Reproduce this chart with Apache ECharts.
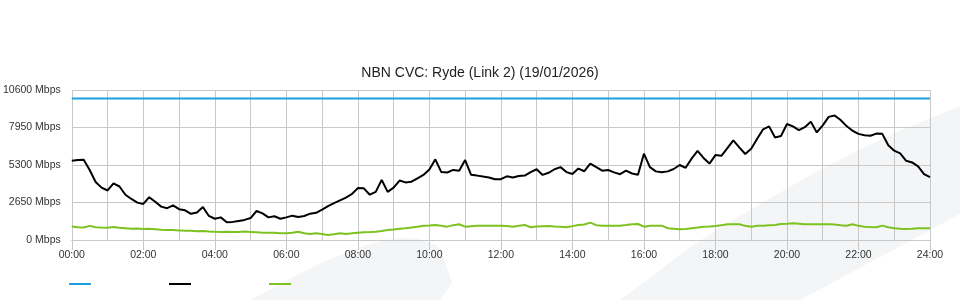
<!DOCTYPE html>
<html>
<head>
<meta charset="utf-8">
<script src="https://cdn.jsdelivr.net/npm/echarts@6/dist/echarts.min.js"></script>
<style>
html,body{margin:0;padding:0;background:#fff;}
#chart{width:960px;height:300px;}
</style>
</head>
<body>
<div id="chart"></div>
<script>
// ---- data (10-minute samples, 00:00 .. 24:00) ----
const titleText = 'NBN CVC: Ryde (Link 2) (19/01/2026)';
const sampleMinutes = 10;
const xTickLabels = ['00:00','02:00','04:00','06:00','08:00','10:00','12:00','14:00','16:00','18:00','20:00','22:00','24:00'];
const yTickValues = [0, 2650, 5300, 7950, 10600];
const seriesNames = ['CVC Capacity', 'Download', 'Upload'];

const capacityHours = [0, 24];
const capacityMbps = [10000, 10000];

const downloadMbps = [
  5600, 5650, 5672, 4950, 4100, 3700, 3500, 4000, 3780, 3200,
  2900, 2640, 2550, 3027, 2700, 2360, 2250, 2450, 2180, 2100,
  1850, 1950, 2330, 1700, 1500, 1600, 1250, 1280, 1350, 1420,
  1550, 2050, 1880, 1600, 1680, 1500, 1600, 1720, 1620, 1700,
  1860, 1920, 2150, 2400, 2600, 2800, 3000, 3250, 3666, 3650,
  3200, 3400, 4250, 3400, 3700, 4200, 4070, 4120, 4360, 4600,
  4980, 5700, 4800, 4770, 4950, 4900, 5650, 4610, 4550, 4480,
  4420, 4290, 4300, 4500, 4420, 4520, 4550, 4800, 5000, 4600,
  4750, 5000, 5150, 4800, 4660, 5050, 4860, 5400, 5150, 4900,
  4950, 4780, 4650, 4900, 4700, 4610, 6100, 5150, 4850, 4780,
  4850, 5020, 5300, 5100, 5750, 6300, 5800, 5400, 6000, 5950,
  6500, 7040, 6550, 6080, 6450, 7150, 7820, 8030, 7250, 7350,
  8200, 8030, 7760, 7970, 8366, 7600, 8100, 8700, 8800, 8480,
  8050, 7720, 7500, 7400, 7370, 7520, 7500, 6700, 6310, 6120,
  5600, 5480, 5200, 4660, 4450
];

const uploadMbps = [
  950, 900, 880, 1000, 900, 880,
  870, 920, 860, 830, 800, 810,
  780, 800, 760, 720, 700, 700,
  680, 650, 660, 620, 640, 600,
  580, 570, 580, 560, 560, 600,
  570, 540, 510, 520, 520, 480,
  470, 520, 589, 480, 425, 475,
  420, 354, 400, 475, 425, 470,
  518, 540, 560, 589, 640, 709,
  750, 800, 830, 880, 943, 1000,
  1030, 1063, 1000, 943, 1050, 1110,
  943, 980, 1000, 1014, 1010, 1014,
  1014, 990, 943, 1000, 1063, 900,
  950, 980, 990, 960, 943, 900,
  980, 1063, 1100, 1227, 1050, 1014,
  1014, 1000, 1014, 1060, 1110, 1130,
  943, 1014, 1014, 1014, 830, 800,
  759, 780, 830, 880, 943, 960,
  990, 1050, 1110, 1110, 1110, 1000,
  943, 1014, 1014, 1040, 1063, 1130,
  1150, 1184, 1150, 1110, 1110, 1110,
  1110, 1110, 1090, 1050, 1014, 1110,
  1000, 943, 920, 900, 1014, 900,
  830, 800, 780, 800, 830, 830,
  830
];

// ---- build ----
const toPairs = arr => arr.map((v, i) => [i * sampleMinutes / 60, v]);
const gridColor = '#c8c8c8';
const font = 'Liberation Sans, Arial, sans-serif';

const chart = echarts.init(document.getElementById('chart'), null, {renderer: 'canvas'});
chart.setOption({
  animation: false,
  backgroundColor: '#ffffff',
  graphic: [
    {
      type: 'polygon', z: -10, silent: true,
      shape: {points: [[620,300],[650,278],[683,252],[720,228],[760,204],[823,168],[890,135],[960,106],[960,214],[800,300]]},
      style: {fill: '#f4f5f7'}
    },
    {
      type: 'polygon', z: -10, silent: true,
      shape: {points: [[250,300],[275,287],[297,275],[330,259],[363,246],[385,240],[400,238],[420,239],[438,246],[445,262],[452,283],[446,292],[440,300]]},
      style: {fill: '#f4f5f7'}
    }
  ],
  title: {
    text: titleText,
    left: 'center',
    top: 61,
    textStyle: {fontFamily: font, fontSize: 14, fontWeight: 'normal', color: '#222'}
  },
  legend: {
    left: 64,
    top: 278,
    icon: 'rect',
    itemWidth: 22,
    itemHeight: 2,
    itemGap: 78,
    formatter: () => '',
    textStyle: {fontSize: 12},
    selectedMode: false,
    data: seriesNames
  },
  grid: {left: 70, right: 30, top: 90, bottom: 60, containLabel: false},
  xAxis: {
    type: 'value',
    min: 0, max: 24, interval: 2,
    axisLine: {show: true, lineStyle: {color: gridColor, width: 1}},
    axisTick: {show: true, length: 10, lineStyle: {color: gridColor}},
    axisLabel: {
      margin: 10,
      fontFamily: font, fontSize: 10.5, color: '#333',
      formatter: v => xTickLabels[Math.round(v / 2)] || ''
    },
    splitLine: {show: true, lineStyle: {color: gridColor, width: 1}},
    minorTick: {show: false, splitNumber: 2},
    minorSplitLine: {show: true, lineStyle: {color: gridColor, width: 1}}
  },
  yAxis: {
    type: 'value',
    min: yTickValues[0], max: yTickValues[yTickValues.length - 1], interval: yTickValues[1] - yTickValues[0],
    axisLine: {show: false},
    axisTick: {show: false},
    axisLabel: {
      margin: 11,
      fontFamily: font, fontSize: 10.5, color: '#333',
      padding: [0, 0, 5, 0],
      formatter: v => v + ' Mbps'
    },
    splitLine: {show: true, lineStyle: {color: gridColor, width: 1}}
  },
  series: [
    {
      name: seriesNames[0], type: 'line', showSymbol: false, symbol: 'none',
      data: capacityHours.map((h, i) => [h, capacityMbps[i]]),
      lineStyle: {color: '#1c9fe0', width: 2}, itemStyle: {color: '#1c9fe0'}, z: 3
    },
    {
      name: seriesNames[1], type: 'line', showSymbol: false, symbol: 'none',
      data: toPairs(downloadMbps),
      lineStyle: {color: '#000000', width: 2}, itemStyle: {color: '#000000'}, z: 4
    },
    {
      name: seriesNames[2], type: 'line', showSymbol: false, symbol: 'none',
      data: toPairs(uploadMbps),
      lineStyle: {color: '#7dc21f', width: 2}, itemStyle: {color: '#7dc21f'}, z: 5
    }
  ]
});
</script>
</body>
</html>
